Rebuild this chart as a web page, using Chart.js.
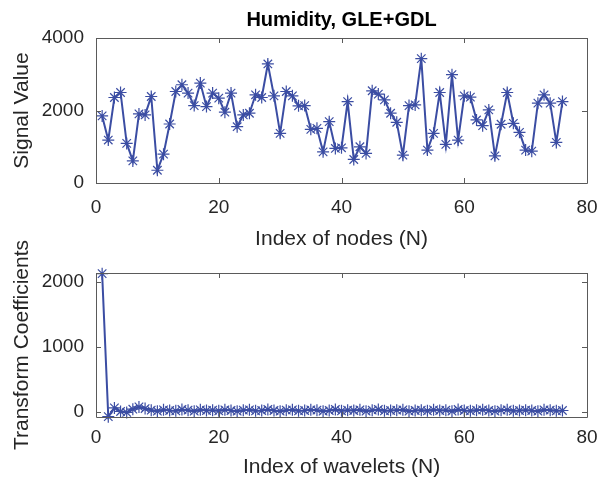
<!DOCTYPE html>
<html>
<head>
<meta charset="utf-8">
<script src="https://cdn.jsdelivr.net/npm/chart.js@4"></script>
<style>
	body { margin: 0; background: #fff; }
	#wrap { position: relative; width: 604px; height: 483px; }
	.box { position: absolute; left: 0; width: 604px; }
</style>
</head>
<body>
<div id="wrap">
	<div class="box" style="top:0;height:252px"><canvas id="signal-chart"></canvas></div>
	<div class="box" style="top:200px;height:283px"><canvas id="transform-chart"></canvas></div>
</div>
<script>
//signal values per node (top plot)
let signalValues = [
	1850, 1185, 2358, 2497, 1093, 610, 1906, 1878, 2386, 352,
	796, 1628, 2524, 2710, 2480, 2136, 2757, 2108, 2480, 2341,
	1953, 2480, 1553, 1878, 1925, 2433, 2358, 3284, 2405, 1370,
	2524, 2405, 2128, 2136, 1481, 1508, 860, 1692, 953, 971,
	2247, 649, 999, 815, 2544, 2452, 2294, 1925, 1675, 768,
	2136, 2155, 3431, 907, 1370, 2497, 1065, 2988, 1185, 2405,
	2368, 1739, 1581, 2017, 749, 1620, 2497, 1647, 1398, 907,
	879, 2202, 2433, 2202, 1120, 2247,
];
//transform coefficients per wavelet (bottom plot)
let transformValues = [
	2125, -75, 60, 5, -10, 40, 75, 50, 25, 10,
	30, 20, 15, 35, 25, 10, 30, 20, 25, 15,
	30, 20, 10, 25, 30, 15, 20, 35, 20, 10,
	25, 30, 15, 20, 30, 25, 10, 20, 35, 15,
	25, 20, 30, 10, 25, 35, 15, 20, 25, 30,
	10, 20, 25, 15, 30, 20, 25, 10, 35, 20,
	15, 25, 30, 20, 10, 25, 30, 15, 20, 25,
	20, 10, 30, 25, 15, 20,
];
let xTicks = [0, 20, 40, 60, 80];
let signalTicks = [0, 2000, 4000];
let transformTicks = [0, 1000, 2000];
let chartTitle = "Humidity, GLE+GDL";

let lineColor = "#3b4da3";
let textColor = "#262626";
let fontFamily = "'Liberation Sans', Arial, sans-serif";

Chart.defaults.font.family = fontFamily;
Chart.defaults.color = textColor;
Chart.defaults.animation = false;

//turn a list of values into {x, y} points, index starting at 1
function toPoints(values) {
	return values.map((v, i) => ({ x: i + 1, y: v }));
}

//box round the plot with inward ticks on all four sides (matlab style)
//also draws the title centred over the plot area, not the canvas
let matlabBox = {
	id: "matlabBox",
	afterDraw(chart, args, opts) {
		let ctx = chart.ctx;
		let a = chart.chartArea;
		let xs = chart.scales.x;
		let ys = chart.scales.y;
		let len = 5;
		ctx.save();
		ctx.strokeStyle = "#5a5a5a";
		ctx.lineWidth = 1;
		ctx.beginPath();
		ctx.rect(Math.round(a.left) + 0.5, Math.round(a.top) + 0.5, Math.round(a.right - a.left), Math.round(a.bottom - a.top));
		xs.ticks.forEach((t) => {
			let px = Math.round(xs.getPixelForValue(t.value)) + 0.5;
			ctx.moveTo(px, a.bottom);
			ctx.lineTo(px, a.bottom - len);
			ctx.moveTo(px, a.top);
			ctx.lineTo(px, a.top + len);
		});
		ys.ticks.forEach((t) => {
			let py = Math.round(ys.getPixelForValue(t.value)) + 0.5;
			ctx.moveTo(a.left, py);
			ctx.lineTo(a.left + len, py);
			ctx.moveTo(a.right, py);
			ctx.lineTo(a.right - len, py);
		});
		ctx.stroke();
		if (opts.text) {
			ctx.fillStyle = "#000";
			ctx.font = "bold 20px " + fontFamily;
			ctx.textAlign = "center";
			ctx.textBaseline = "middle";
			ctx.fillText(opts.text, (a.left + a.right) / 2, opts.y);
		}
		ctx.restore();
	},
};

function makeChart(id, values, yMin, yMax, yTickList, yTitle, xTitle, title, pad, xHeight, xTickPad, xTitlePad) {
	return new Chart(document.getElementById(id), {
		type: "line",
		data: {
			datasets: [
				{
					data: toPoints(values),
					borderColor: lineColor,
					backgroundColor: lineColor,
					borderWidth: 2,
					pointStyle: "star",
					pointRadius: 6,
					pointBorderWidth: 1.2,
					tension: 0,
					clip: false,
				},
			],
		},
		options: {
			responsive: true,
			maintainAspectRatio: false,
			layout: { padding: pad },
			plugins: {
				legend: { display: false },
				tooltip: { enabled: false },
				matlabBox: { text: title, y: 20 },
			},
			scales: {
				x: {
					type: "linear",
					min: 0,
					max: 80,
					afterBuildTicks: (s) => {
						s.ticks = xTicks.map((v) => ({ value: v }));
					},
					afterFit: (s) => {
						//fixed height, and no extra room for the end labels
						s.height = xHeight;
						s.paddingLeft = 0;
						s.paddingRight = 0;
					},
					grid: { display: false, drawTicks: false },
					border: { display: false },
					ticks: { font: { size: 19 }, padding: xTickPad, maxRotation: 0, callback: (v) => String(v) },
					title: { display: true, text: xTitle, font: { size: 21 }, padding: { top: 0, bottom: xTitlePad } },
				},
				y: {
					min: yMin,
					max: yMax,
					afterBuildTicks: (s) => {
						s.ticks = yTickList.map((v) => ({ value: v }));
					},
					afterFit: (s) => {
						s.width = 96;
						s.paddingTop = 0;
						s.paddingBottom = 0;
					},
					grid: { display: false, drawTicks: false },
					border: { display: false },
					ticks: { font: { size: 19 }, padding: 12, callback: (v) => String(v) },
					title: { display: true, text: yTitle, font: { size: 21 }, padding: { top: 10, bottom: 0 } },
				},
			},
		},
		plugins: [matlabBox],
	});
}

let signalChart = makeChart("signal-chart", signalValues, 0, 4000, signalTicks, "Signal Value", "Index of nodes (N)", chartTitle, { top: 38, right: 17, bottom: 0, left: 0 }, 69, 13, 0);
let transformChart = makeChart("transform-chart", transformValues, -80, 2135, transformTicks, "Transform Coefficients", "Index of wavelets (N)", null, { top: 73, right: 17, bottom: 0, left: 0 }, 66, 9, 3);
</script>
</body>
</html>
